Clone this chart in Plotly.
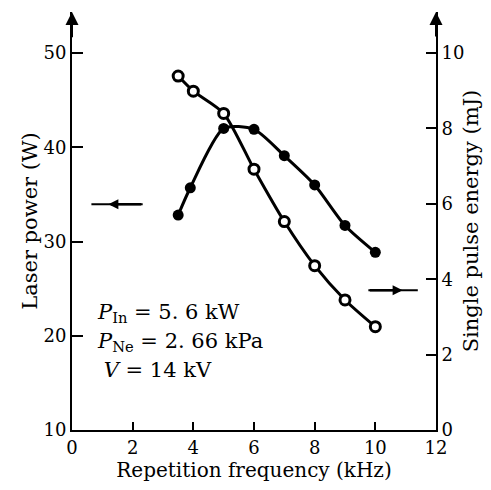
import plotly.graph_objects as go

# Data
freq_power = [3.5, 3.9, 5.0, 6.0, 7.0, 8.0, 9.0, 10.0]
laser_power = [32.8, 35.7, 42.0, 41.9, 39.1, 36.0, 31.7, 28.85]

freq_energy = [3.5, 4.0, 5.0, 6.0, 7.0, 8.0, 9.0, 10.0]
pulse_energy = [9.39, 8.99, 8.40, 6.92, 5.53, 4.36, 3.45, 2.74]

x_ticks = [0, 2, 4, 6, 8, 10, 12]
left_ticks = [10, 20, 30, 40, 50]
right_ticks = [0, 2, 4, 6, 8, 10]

FONT = "DejaVu Serif"

fig = go.Figure()
fig.add_trace(go.Scatter(
    x=freq_power, y=laser_power, mode="lines+markers",
    line=dict(color="black", width=3, shape="spline", smoothing=0.7),
    marker=dict(symbol="circle", size=11, color="black"),
    yaxis="y", showlegend=False))
fig.add_trace(go.Scatter(
    x=freq_energy, y=pulse_energy, mode="lines+markers",
    line=dict(color="black", width=3, shape="spline", smoothing=0.7),
    marker=dict(symbol="circle", size=10, color="white", line=dict(color="black", width=3)),
    yaxis="y2", showlegend=False))

axis_common = dict(showgrid=False, zeroline=False, showline=True, linecolor="black",
                   linewidth=2, ticks="inside", tickcolor="black", tickwidth=2,
                   tickfont=dict(family=FONT, size=18, color="black"))

fig.update_layout(
    width=491, height=490,
    margin=dict(l=72, r=49, t=12, b=60),
    plot_bgcolor="white", paper_bgcolor="white",
    xaxis=dict(range=[0, 12], tickvals=x_ticks, ticklen=8,
               title=dict(text="Repetition frequency (kHz)", font=dict(family=FONT, size=20, color="black"), standoff=4),
               **axis_common),
    yaxis=dict(range=[10, 54.35], tickvals=left_ticks, ticklen=11,
               title=dict(text="Laser power (W)", font=dict(family=FONT, size=21, color="black"), standoff=0),
               **axis_common),
    yaxis2=dict(range=[0, 11.09], tickvals=right_ticks, ticklen=10, overlaying="y", side="right",
                title=dict(text="Single pulse energy (mJ)", font=dict(family=FONT, size=21, color="black"), standoff=0),
                **axis_common),
)

# axis arrowheads
fig.add_annotation(x=0, y=54.35, ax=0, ay=51.5, xref="x", yref="y", axref="x", ayref="y",
                   showarrow=True, arrowhead=2, arrowsize=1.3, arrowwidth=2, arrowcolor="black", text="")
fig.add_annotation(x=12, y=11.09, ax=12, ay=10.4, xref="x", yref="y2", axref="x", ayref="y2",
                   showarrow=True, arrowhead=2, arrowsize=1.3, arrowwidth=2, arrowcolor="black", text="")

# pointer arrows
fig.add_shape(type="line", x0=0.64, x1=2.33, y0=33.95, y1=33.95, xref="x", yref="y",
              line=dict(color="black", width=2))
fig.add_annotation(x=1.2, y=33.95, ax=2.33, ay=33.95, xref="x", yref="y", axref="x", ayref="y",
                   showarrow=True, arrowhead=2, arrowsize=0.8, arrowwidth=2.5, arrowcolor="black", text="")
fig.add_shape(type="line", x0=9.77, x1=11.4, y0=3.71, y1=3.71, xref="x", yref="y2",
              line=dict(color="black", width=2))
fig.add_annotation(x=10.9, y=3.71, ax=9.77, ay=3.71, xref="x", yref="y2", axref="x", ayref="y2",
                   showarrow=True, arrowhead=2, arrowsize=0.8, arrowwidth=2.5, arrowcolor="black", text="")

# parameter text
params = [
    "<i>P</i><sub>In</sub> = 5. 6 kW",
    "<i>P</i><sub>Ne</sub> = 2. 66 kPa",
    " <i>V</i> = 14 kV",
]
plot_w = 491 - 72 - 49
plot_h = 490 - 12 - 60
for i, t in enumerate(params):
    px, py = 95, 313 + i * 28.5
    fig.add_annotation(x=(px - 72) / plot_w, y=1 - (py - 12) / plot_h, xref="paper", yref="paper",
                       text=t, showarrow=False, xanchor="left", yanchor="middle",
                       font=dict(family=FONT, size=21, color="black"))

fig.write_html("out.html")
